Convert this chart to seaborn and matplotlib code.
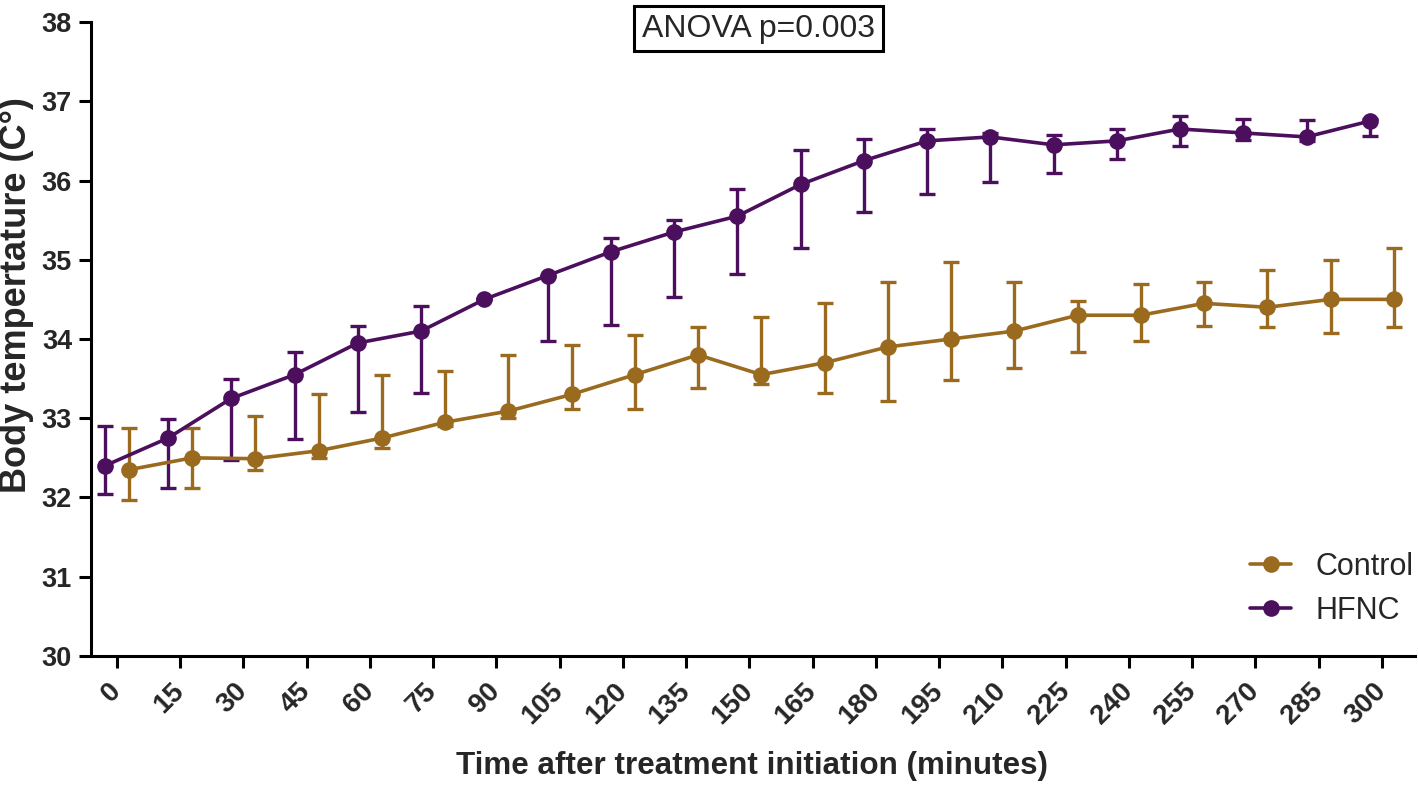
import matplotlib
matplotlib.use("Agg")
import matplotlib.pyplot as plt
from matplotlib.lines import Line2D
import seaborn as sns
import pandas as pd
import numpy as np

# ---------------- data ----------------
times = [0, 15, 30, 45, 60, 75, 90, 105, 120, 135, 150, 165, 180, 195, 210,
         225, 240, 255, 270, 285, 300]
tick_labels = [str(t) for t in times]

hfnc_mean = [32.40, 32.75, 33.25, 33.55, 33.95, 34.10, 34.50, 34.80, 35.10, 35.35,
             35.55, 35.95, 36.25, 36.50, 36.55, 36.45, 36.50, 36.65, 36.60, 36.55, 36.75]
hfnc_low = [32.04, 32.12, 32.47, 32.74, 33.08, 33.32, 34.50, 33.97, 34.18, 34.53,
            34.82, 35.15, 35.60, 35.83, 35.98, 36.10, 36.27, 36.43, 36.51, 36.50, 36.56]
hfnc_high = [32.90, 32.99, 33.50, 33.83, 34.16, 34.42, 34.50, 34.80, 35.28, 35.50,
             35.89, 36.38, 36.52, 36.65, 36.60, 36.58, 36.65, 36.81, 36.78, 36.76, 36.78]

ctrl_mean = [32.35, 32.50, 32.49, 32.59, 32.75, 32.95, 33.09, 33.30, 33.55, 33.80,
             33.55, 33.70, 33.90, 34.00, 34.10, 34.30, 34.30, 34.45, 34.40, 34.50, 34.50]
ctrl_low = [31.97, 32.12, 32.35, 32.50, 32.62, 32.90, 33.00, 33.12, 33.12, 33.38,
            33.43, 33.32, 33.22, 33.48, 33.63, 33.83, 33.97, 34.17, 34.15, 34.08, 34.15]
ctrl_high = [32.88, 32.88, 33.03, 33.30, 33.55, 33.59, 33.80, 33.92, 34.05, 34.15,
             34.28, 34.45, 34.72, 34.97, 34.72, 34.48, 34.70, 34.72, 34.87, 35.00, 35.15]

groups = ["Control", "HFNC"]
colors = {"Control": "#9A6A1E", "HFNC": "#4B0F5D"}
dodge = {"Control": 2.85, "HFNC": -2.85}

# ---------------- style ----------------
sns.set_style("ticks")
plt.rcParams["font.family"] = ["Liberation Sans", "DejaVu Sans"]

fig = plt.figure(figsize=(14.18, 7.86), dpi=100)
ax = fig.add_axes([0.064, 0.1654, 0.934, 0.8066])

frames = []
for g, m, lo, hi in [("Control", ctrl_mean, ctrl_low, ctrl_high),
                     ("HFNC", hfnc_mean, hfnc_low, hfnc_high)]:
    frames.append(pd.DataFrame({
        "x": np.array(times, dtype=float) + dodge[g],
        "temp": m, "low": lo, "high": hi, "group": g}))
df = pd.concat(frames, ignore_index=True)

for g in groups:
    d = df[df["group"] == g]
    ax.errorbar(d["x"], d["temp"],
                yerr=[d["temp"] - d["low"], d["high"] - d["temp"]],
                fmt="none", ecolor=colors[g], elinewidth=2.4,
                capsize=5.6, capthick=2.4, zorder=2, clip_on=False)

sns.lineplot(data=df, x="x", y="temp", hue="group", hue_order=groups,
             palette=colors, marker="o", markersize=12, markeredgewidth=0,
             linewidth=2.6, legend=False, ax=ax, zorder=3, estimator=None,
             sort=True)

ax.set_xlim(-6.17, 307.9)
ax.set_ylim(30, 38)
ax.set_yticks(range(30, 39))
ax.set_xticks(times)
ax.set_xticklabels(tick_labels, rotation=45, ha="right", va="center",
                   rotation_mode="anchor", fontsize=20, fontweight="bold")
for lab in ax.get_yticklabels():
    lab.set_fontsize(19.5)
    lab.set_fontweight("bold")

sns.despine(ax=ax)
for s in ["left", "bottom"]:
    ax.spines[s].set_linewidth(2.2)
    ax.spines[s].set_color("black")
ax.tick_params(axis="both", which="major", length=8.5, width=2.2, color="black",
               direction="out")
ax.tick_params(axis="x", pad=14)
ax.tick_params(axis="y", pad=5)

ax.set_ylabel("Body tempertature (C°)", fontsize=26, fontweight="bold")
ax.yaxis.label.set_va("center")
ax.yaxis.set_label_coords(-0.0564, 0.569)
ax.set_xlabel("Time after treatment initiation (minutes)", fontsize=22.6,
              fontweight="bold")
ax.xaxis.label.set_va("center")
ax.xaxis.set_label_coords(0.4994, -0.1735)

handles = [Line2D([], [], color=colors[g], marker="o", markersize=12,
                  markeredgewidth=0, linewidth=2.6) for g in groups]
ax.legend(handles, groups, loc="center left", frameon=False, fontsize=22,
          bbox_to_anchor=(1250 / 1418, 1 - 589 / 786),
          bbox_transform=fig.transFigure, borderpad=0, borderaxespad=0,
          handlelength=1.35, handletextpad=0.8, labelspacing=0.45)

fig.text(758.5 / 1418, 1 - 28.5 / 786, "ANOVA p=0.003", fontsize=23,
         ha="center", va="center",
         bbox=dict(boxstyle="square,pad=0.25", facecolor="white",
                   edgecolor="black", linewidth=2.2))

fig.savefig("out.png", dpi=100)
